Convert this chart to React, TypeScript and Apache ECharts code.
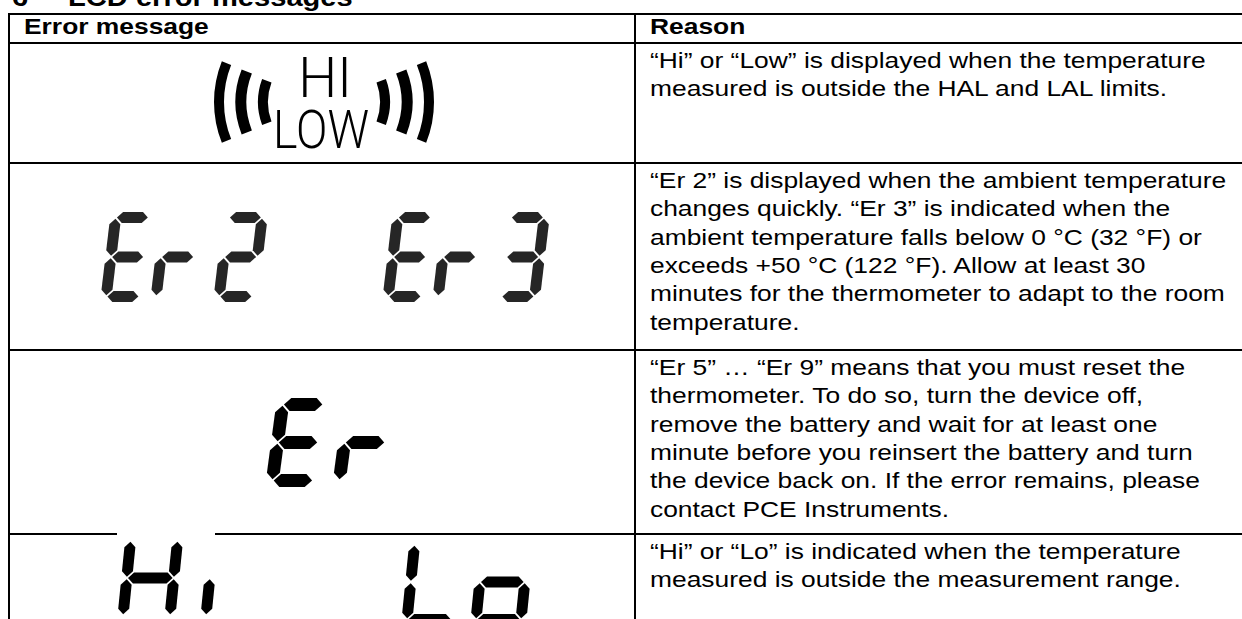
import React, { useEffect, useRef } from "react";
import * as echarts from "echarts";

// ---------- content ----------
const TITLE_NUMBER = "6";
const TITLE_TEXT = "LCD error messages";
const HEADER_LEFT = "Error message";
const HEADER_RIGHT = "Reason";

const REASON_HI_LOW = [
  "\u201cHi\u201d or \u201cLow\u201d is displayed when the temperature",
  "measured is outside the HAL and LAL limits.",
];
const REASON_ER23 = [
  "\u201cEr 2\u201d is displayed when the ambient temperature",
  "changes quickly. \u201cEr 3\u201d is indicated when the",
  "ambient temperature falls below 0 \u00b0C (32 \u00b0F) or",
  "exceeds +50 \u00b0C (122 \u00b0F). Allow at least 30",
  "minutes for the thermometer to adapt to the room",
  "temperature.",
];
const REASON_ER = [
  "\u201cEr 5\u201d \u2026 \u201cEr 9\u201d means that you must reset the",
  "thermometer. To do so, turn the device off,",
  "remove the battery and wait for at least one",
  "minute before you reinsert the battery and turn",
  "the device back on. If the error remains, please",
  "contact PCE Instruments.",
];
const REASON_HI_LO = [
  "\u201cHi\u201d or \u201cLo\u201d is indicated when the temperature",
  "measured is outside the measurement range.",
];

const ICON_TOP_WORD = "HI";
const ICON_BOTTOM_WORD = "LOW";
const LCD_ER2 = ["E", "r", "2"];
const LCD_ER3 = ["E", "r", "3"];
const LCD_ER = ["E", "r"];
const LCD_HI = ["H", "i"];
const LCD_LO = ["L", "o"];

// seven-segment letter map
const SEGMENTS: Record<string, string[]> = {
  E: ["a", "d", "e", "f", "g"],
  r: ["e", "g"],
  "2": ["a", "b", "g", "e", "d"],
  "3": ["a", "b", "g", "c", "d"],
  H: ["b", "c", "e", "f", "g"],
  i: ["e"],
  L: ["d", "e", "f"],
  o: ["c", "d", "e", "g"],
};

const FONT = "'Liberation Sans', Arial, sans-serif";
const BODY_FS = 22;
const BODY_SX = 1.2;

function textEl(str: string, left: number, baseline: number, fs: number, opts: any = {}) {
  const align = opts.align || "left";
  return {
    type: "text",
    x: left,
    y: baseline - 0.3465 * fs,
    scaleX: opts.scaleX ?? BODY_SX,
    silent: true,
    z: 10,
    style: {
      text: str,
      x: 0,
      y: 0,
      fontSize: fs,
      fontFamily: opts.family || FONT,
      fontWeight: opts.weight || "normal",
      fill: opts.fill || "#000",
      align,
      verticalAlign: "middle",
      textAlign: align,
      textVerticalAlign: "middle",
    },
  };
}

function rect(x: number, y: number, w: number, h: number, fill = "#000", z = 5) {
  return { type: "rect", silent: true, z, shape: { x, y, width: w, height: h }, style: { fill } };
}

type LcdCfg = { x0: number; top: number; W: number; H: number; T: number; S: number; gap: number; fill: string };

function segPoly(seg: string, c: LcdCfg): number[][] {
  const { W, H, T, gap: g } = c;
  const h2 = T / 2;
  const horiz = (yc: number) => {
    const xa = h2, xb = W - h2;
    return [
      [xa + g, yc], [xa + g + h2, yc - h2], [xb - g - h2, yc - h2],
      [xb - g, yc], [xb - g - h2, yc + h2], [xa + g + h2, yc + h2],
    ];
  };
  const vert = (xc: number, ya: number, yb: number) => [
    [xc, ya + g], [xc + h2, ya + g + h2], [xc + h2, yb - g - h2],
    [xc, yb - g], [xc - h2, yb - g - h2], [xc - h2, ya + g + h2],
  ];
  switch (seg) {
    case "a": return horiz(h2);
    case "g": return horiz(H / 2);
    case "d": return horiz(H - h2);
    case "f": return vert(h2, h2, H / 2);
    case "e": return vert(h2, H / 2, H - h2);
    case "b": return vert(W - h2, h2, H / 2);
    case "c": return vert(W - h2, H / 2, H - h2);
  }
  return [];
}

function lcdGroup(chars: string[], offsets: number[], c: LcdCfg) {
  const els: any[] = [];
  chars.forEach((ch, i) => {
    const ox = c.x0 + offsets[i];
    (SEGMENTS[ch] || []).forEach((s) => {
      const pts = segPoly(s, c).map(([x, y]) => [ox + x + (c.H - y) * c.S, c.top + y]);
      els.push({ type: "polygon", silent: true, z: 8, shape: { points: pts }, style: { fill: c.fill } });
    });
  });
  return els;
}

function buildGraphic() {
  const els: any[] = [];
  // table geometry
  const LEFT = 9, DIV = 635, RIGHT = 1250;
  const TOP = 14, HDR = 43;
  const ROWB = [163, 350, 534];
  const LW = 2;
  [TOP, HDR, ...ROWB].forEach((y) => els.push(rect(LEFT - 1, y - 1, RIGHT - LEFT, LW)));
  els.push(rect(LEFT - 1, TOP - 1, LW, 619 - TOP + 2));
  els.push(rect(DIV - 1, TOP - 1, LW, 619 - TOP + 2));

  // title (cut at top)
  els.push(textEl(TITLE_NUMBER, 12, 6, 26, { weight: "bold", scaleX: 1.12 }));
  els.push(textEl(TITLE_TEXT, 68, 6, 26, { weight: "bold", scaleX: 1.12 }));

  // headers
  els.push(textEl(HEADER_LEFT, 24, 34, BODY_FS, { weight: "bold" }));
  els.push(textEl(HEADER_RIGHT, 650, 34, BODY_FS, { weight: "bold" }));

  // reasons
  const LS = 28.3;
  const TX = 650;
  const rowsText = [REASON_HI_LOW, REASON_ER23, REASON_ER, REASON_HI_LO];
  const rowTops = [HDR, ...ROWB];
  rowsText.forEach((lines, r) => {
    lines.forEach((ln, i) => els.push(textEl(ln, TX, rowTops[r] + 25 + i * LS, BODY_FS)));
  });

  // ---- HI / LOW icon ----
  const cx = 324, cy = 102;
  const arcs = [
    { r: 105, a: 0.38, w: 10 },
    { r: 83, a: 0.375, w: 11 },
    { r: 61, a: 0.355, w: 10 },
  ];
  arcs.forEach((ac) => {
    els.push({ type: "arc", silent: true, z: 8, shape: { cx, cy, r: ac.r, startAngle: Math.PI - ac.a, endAngle: Math.PI + ac.a, clockwise: true }, style: { stroke: "#000", lineWidth: ac.w, fill: null, lineCap: "butt" } });
    els.push({ type: "arc", silent: true, z: 8, shape: { cx, cy, r: ac.r, startAngle: -ac.a, endAngle: ac.a, clockwise: true }, style: { stroke: "#000", lineWidth: ac.w, fill: null, lineCap: "butt" } });
  });
  els.push({
    type: "text", silent: true, z: 9, x: 325, y: 78, scaleX: 1.0,
    style: { text: ICON_TOP_WORD, x: 0, y: 0, fontSize: 55, fontFamily: "Roboto, 'Liberation Sans Narrow', sans-serif", fontWeight: 300, fill: "#000", align: "center", verticalAlign: "middle", textAlign: "center", textVerticalAlign: "middle" },
  });
  els.push({
    type: "text", silent: true, z: 9, x: 321, y: 129, scaleX: 0.86,
    style: { text: ICON_BOTTOM_WORD, x: 0, y: 0, fontSize: 54, fontFamily: "Roboto, 'Liberation Sans Narrow', sans-serif", fontWeight: 300, fill: "#000", align: "center", verticalAlign: "middle", textAlign: "center", textVerticalAlign: "middle" },
  });

  // ---- LCD digits ----
  const er23: LcdCfg = { x0: 100, top: 212, W: 44.5, H: 90, T: 11, S: 0.12, gap: 1.3, fill: "#262626" };
  els.push(...lcdGroup(LCD_ER2, [0, 50, 113], er23));
  els.push(...lcdGroup(LCD_ER3, [0, 50, 113], { ...er23, x0: 382 }));
  els.push(...lcdGroup(LCD_ER, [0, 67], { x0: 265, top: 398, W: 54, H: 89, T: 13, S: 0.135, gap: 1.3, fill: "#000" }));
  // white image background of the Hi picture over the row line
  els.push(rect(117, 532, 98, 5, "#fff", 6));
  els.push(...lcdGroup(LCD_HI, [0, 83], { x0: 117, top: 535, W: 58, H: 86, T: 11, S: 0.1, gap: 1.2, fill: "#000" }));
  els.push(...lcdGroup(LCD_LO, [0, 69], { x0: 401, top: 539, W: 56, H: 86, T: 11, S: 0.1, gap: 1.2, fill: "#000" }));
  return els;
}

export default function App() {
  const ref = useRef<HTMLDivElement>(null);
  useEffect(() => {
    if (!ref.current) return;
    const chart = echarts.init(ref.current, undefined, { renderer: "svg" });
    chart.setOption({
      animation: false,
      backgroundColor: "#ffffff",
      graphic: { elements: buildGraphic() },
    });
    return () => chart.dispose();
  }, []);
  return (
    <div
      ref={ref}
      style={{ position: "absolute", left: 0, top: 0, width: 1242, height: 619, background: "#fff" }}
    />
  );
}
